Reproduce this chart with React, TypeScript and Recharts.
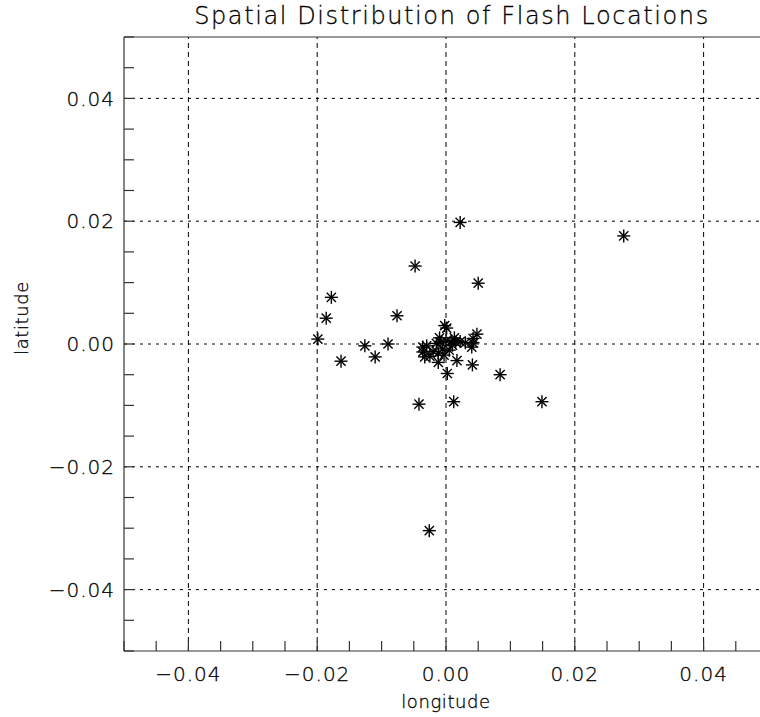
import React from "react"
import { ReferenceLine, Scatter, ScatterChart, XAxis, YAxis } from "recharts"

// flash positions (degrees offset from centre)
const lon = [
  0.0022, 0.0276, -0.0048, 0.005, -0.0178, -0.0186, -0.0076, -0.0199, -0.0163, -0.0126, -0.011, -0.009,
  -0.0042, 0.0012, 0.0084, 0.0149, -0.0026, -0.0002, 0.0001, 0.0048, 0.0042, 0.0042, 0.004, 0.0041,
  0.0017, 0.0002, -0.0012, -0.0036, -0.0036, -0.0033, -0.003, -0.0015, -0.0008, 0.0, 0.0008, 0.0015,
  0.0022, 0.003, -0.0005, -0.0012, -0.002, -0.0025, 0.0005, 0.001, -0.0003, 0.0013, -0.001,
]
const lat = [
  0.0198, 0.0176, 0.0127, 0.0099, 0.0076, 0.0042, 0.0046, 0.0008, -0.0028, -0.0003, -0.0021, 0.0,
  -0.0098, -0.0094, -0.005, -0.0094, -0.0304, 0.003, 0.0026, 0.0016, 0.0009, 0.0002, -0.0005, -0.0034,
  -0.0027, -0.0048, -0.003, -0.0005, -0.0013, -0.0021, -0.0003, 0.0001, 0.0003, 0.0005, 0.0004, 0.0003,
  0.0004, 0.0002, -0.0008, -0.0015, -0.0012, -0.002, -0.001, -0.0002, -0.0018, 0.001, 0.001,
]

const domain: [number, number] = [-0.05, 0.05]
const minorTicks = [
  -0.05, -0.045, -0.04, -0.035, -0.03, -0.025, -0.02, -0.015, -0.01, -0.005, 0, 0.005, 0.01, 0.015,
  0.02, 0.025, 0.03, 0.035, 0.04, 0.045, 0.05,
]
const majorTicks = [-0.04, -0.02, 0, 0.02, 0.04]

const points = lon.map((x, i) => ({ x, y: lat[i] }))

const FONT = "'DejaVu Sans', sans-serif"

const fmt = (v: number) => {
  if (!majorTicks.some((m) => Math.abs(m - v) < 1e-9)) return ""
  const s = Math.abs(v).toFixed(2)
  return v < -1e-9 ? "\u2212" + s : s
}

function Asterisk(props: any) {
  const { cx, cy } = props
  const r = 6.5
  const d = 4.6
  return (
    <g stroke="#000" strokeWidth={1.4}>
      <line x1={cx - r} y1={cy} x2={cx + r} y2={cy} />
      <line x1={cx} y1={cy - r} x2={cx} y2={cy + r} />
      <line x1={cx - d} y1={cy - d} x2={cx + d} y2={cy + d} />
      <line x1={cx - d} y1={cy + d} x2={cx + d} y2={cy - d} />
    </g>
  )
}

const tickStyle = {
  fontFamily: FONT, fontSize: 20, fontWeight: 200, fill: "#000", stroke: "#000", strokeWidth: 0.3, letterSpacing: 1,
}
const axisLine = { stroke: "#333", strokeWidth: 1.2 }
const htmlText = {
  fontFamily: FONT, fontWeight: 200, color: "#000", WebkitTextStroke: "0.3px #000",
} as React.CSSProperties

export default function App() {
  return (
    <div style={{ position: "fixed", left: 0, top: 0, width: 760, height: 717, overflow: "hidden", background: "#fff" }}>
      <div
        style={{
          ...htmlText, position: "absolute", left: 130, width: 644, top: 2, textAlign: "center",
          fontSize: 24, letterSpacing: 1.6,
        }}
      >
        Spatial Distribution of Flash Locations
      </div>
      <ScatterChart width={800} height={717} margin={{ top: 37, right: 32, bottom: 0, left: 0 }}>
        <XAxis
          xAxisId="b" dataKey="x" type="number" domain={domain} allowDataOverflow ticks={minorTicks}
          interval={0} tickFormatter={fmt} tickSize={-10} tickMargin={26} height={66}
          axisLine={axisLine} tickLine={axisLine} tick={tickStyle}
        />
        <XAxis
          xAxisId="t" orientation="top" mirror type="number" domain={domain} allowDataOverflow
          ticks={minorTicks} interval={0} tickSize={10} tick={false} axisLine={axisLine} tickLine={axisLine}
        />
        <YAxis
          yAxisId="l" dataKey="y" type="number" domain={domain} allowDataOverflow ticks={minorTicks}
          interval={0} tickFormatter={fmt} tickSize={-10} tickMargin={19} width={124}
          axisLine={axisLine} tickLine={axisLine} tick={tickStyle}
        />
        <YAxis
          yAxisId="r" orientation="right" mirror type="number" domain={domain} allowDataOverflow
          ticks={minorTicks} interval={0} tickSize={10} tick={false} width={10} axisLine={axisLine} tickLine={axisLine}
        />
        {majorTicks.map((v) => (
          <ReferenceLine key={"vx" + v} xAxisId="b" yAxisId="l" x={v} stroke="#000" strokeDasharray="5 4" />
        ))}
        {majorTicks.map((v) => (
          <ReferenceLine key={"hy" + v} xAxisId="b" yAxisId="l" y={v} stroke="#000" strokeDasharray="3 5" />
        ))}
        <Scatter xAxisId="b" yAxisId="l" data={points} shape={Asterisk} isAnimationActive={false} />
      </ScatterChart>
      <div
        style={{
          ...htmlText, position: "absolute", left: 346, width: 200, top: 692, lineHeight: "20px",
          textAlign: "center", fontSize: 18, letterSpacing: 0.6,
        }}
      >
        longitude
      </div>
      <div
        style={{
          ...htmlText, position: "absolute", left: 22, top: 318, width: 200, marginLeft: -100, marginTop: -12,
          transform: "rotate(-90deg)", textAlign: "center", lineHeight: "24px", fontSize: 18, letterSpacing: 0.6,
        }}
      >
        latitude
      </div>
    </div>
  )
}
